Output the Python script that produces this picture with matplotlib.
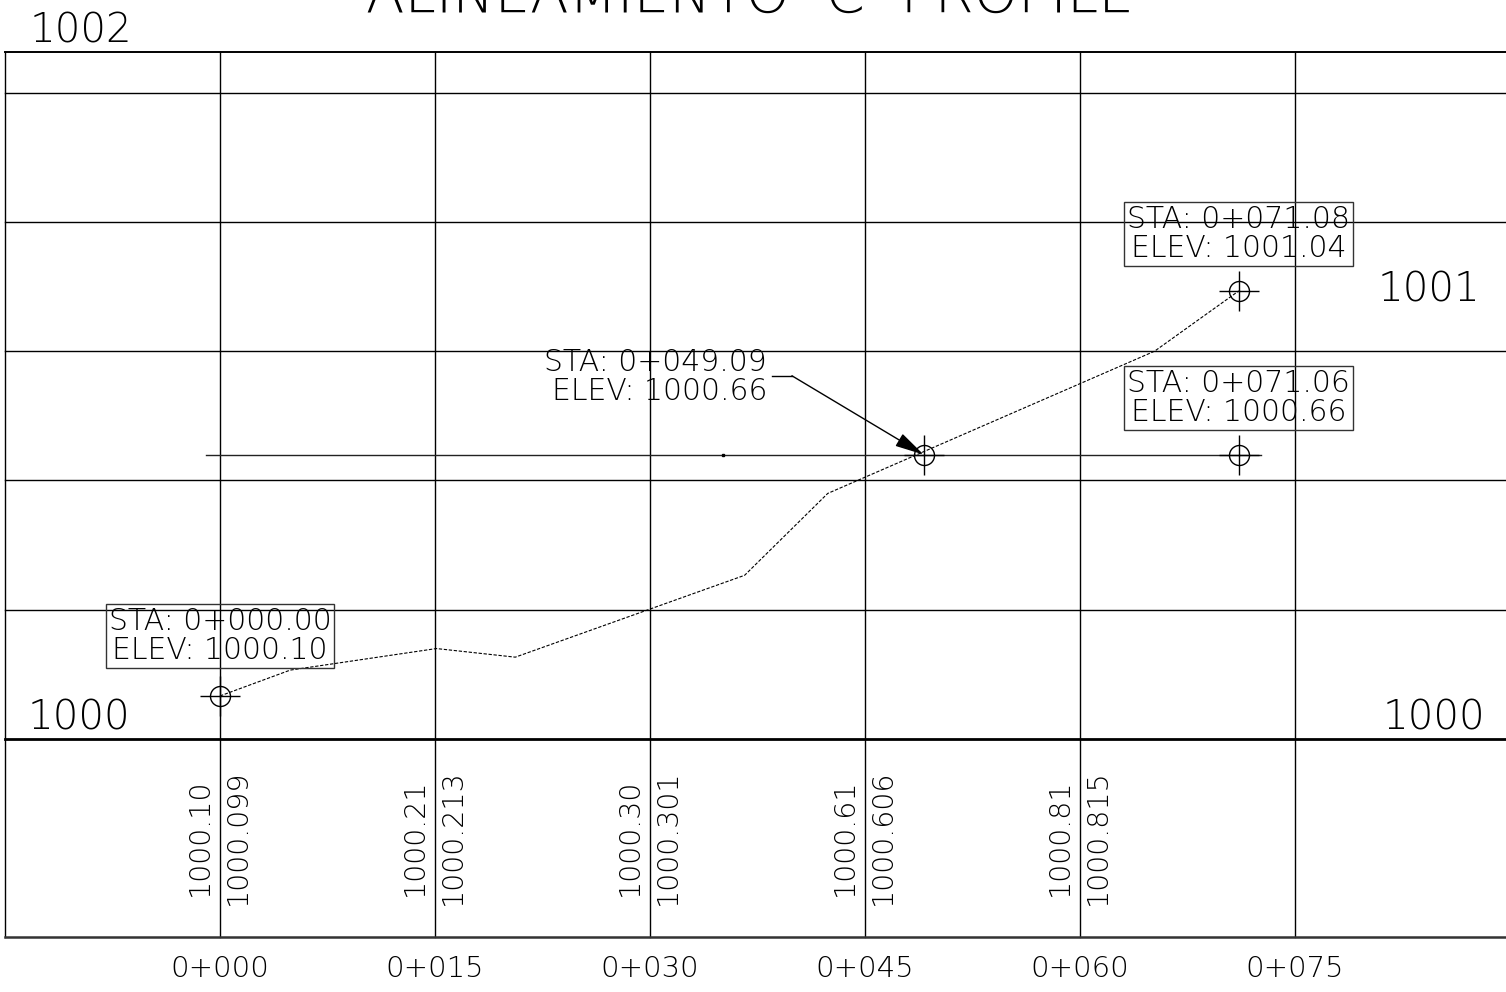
import matplotlib.pyplot as plt
import numpy as np

# station grid (m) and labels
stations = [0, 15, 30, 45, 60, 75]
station_labels = ["0+000", "0+015", "0+030", "0+045", "0+060", "0+075"]

# elevation grid lines (m)
elev_grid = [1000.3, 1000.6, 1000.9, 1001.2, 1001.5]

# band values: existing ground / design
band_sta = [0, 15, 30, 45, 60]
band_exist = ["1000.10", "1000.21", "1000.30", "1000.61", "1000.81"]
band_design = ["1000.099", "1000.213", "1000.301", "1000.606", "1000.815"]

# ground profile (dashed)
profile_sta = [0.0, 4.9, 15.1, 20.6, 36.6, 42.4, 65.2, 71.08]
profile_elev = [1000.10, 1000.16, 1000.21, 1000.19, 1000.38, 1000.57, 1000.90, 1001.04]

# marked points
pt_sta = [0.0, 49.09, 71.08, 71.06]
pt_elev = [1000.10, 1000.66, 1001.04, 1000.66]

# reference level line
ref_elev = 1000.66
ref_from, ref_to = -1.0, 72.6

FONT = "DejaVu Sans"
W = 200  # light strokes, like a CAD simplex font

x_lo, x_hi = -15.35, 89.72
y_lo, y_hi = 999.413, 1001.715
top, bottom, datum = 1001.595, 999.54, 1000.0

fig = plt.figure(figsize=(15.06, 9.92), dpi=100)
ax = fig.add_axes([0, 0, 1, 1])
ax.set_xlim(x_lo, x_hi)
ax.set_ylim(y_lo, y_hi)
ax.axis("off")

# frame and grid
for s in [-15] + stations:
    ax.plot([s, s], [bottom, top], color="black", lw=1.0)
for e in elev_grid:
    ax.plot([-15, 95], [e, e], color="black", lw=1.0)
ax.plot([-15, 95], [top, top], color="black", lw=1.4)
ax.plot([-15, 95], [datum, datum], color="black", lw=2.0)
ax.plot([-15, 95], [bottom, bottom], color="#333333", lw=1.8)

# reference line
ax.plot([ref_from, ref_to], [ref_elev, ref_elev], color="#222222", lw=1.0)
ax.plot([35.1], [ref_elev], marker="s", ms=1.5, color="black")

# profile
ax.plot(profile_sta, profile_elev, color="black", lw=0.8, dashes=(3, 1.5))

# point markers: circle + cross
ax.plot(pt_sta, pt_elev, ls="none", marker="o", ms=14.4, mfc="none", mec="black", mew=1.0)
ax.plot(pt_sta, pt_elev, ls="none", marker="+", ms=29, mec="black", mew=1.0)

# labels in boxes
box = dict(boxstyle="square,pad=0.1", fc="none", ec="#333333", lw=1.0)
for i in [0, 2, 3]:
    s, e = pt_sta[i], pt_elev[i]
    dy = 0.138 if i == 0 else 0.131
    ax.text(s, e + dy, f"STA: 0+{s:06.2f}\nELEV: {e:.2f}", ha="center", va="center",
            family=FONT, fontweight=W, fontsize=21.5, linespacing=1.0, bbox=box)

# leader annotation
s, e = pt_sta[1], pt_elev[1]
ax.text(38.17, 1000.84, f"STA: 0+{s:06.2f}\nELEV: {e:.2f}", ha="right", va="center",
        multialignment="right", family=FONT, fontweight=W, fontsize=21.5, linespacing=1.0)
ax.plot([38.5, 39.9], [1000.843, 1000.843], color="black", lw=1.0)
ax.annotate("", xy=(s, e), xytext=(39.9, 1000.843),
            arrowprops=dict(arrowstyle="-|>,head_length=0.9,head_width=0.22",
                            mutation_scale=20, color="black", lw=1.0, shrinkA=0, shrinkB=0))

# band text
for s, a, b in zip(band_sta, band_exist, band_design):
    ax.text(s - 1.4, 999.773, a, rotation=90, ha="center", va="center",
            family=FONT, fontweight=W, fontsize=20.5)
    ax.text(s + 1.26, 999.773, b, rotation=90, ha="center", va="center",
            family=FONT, fontweight=W, fontsize=20.5)

# station labels
for s, lab in zip(stations, station_labels):
    ax.text(s, 999.466, lab, ha="center", va="center", family=FONT, fontweight=W, fontsize=21)

# elevation labels
ax.text(-13.4, 1000.021, "1000", ha="left", va="baseline", family=FONT, fontweight=W, fontsize=29)
ax.text(88.3, 1000.021, "1000", ha="right", va="baseline", family=FONT, fontweight=W, fontsize=29)
ax.text(87.9, 1001.016, "1001", ha="right", va="baseline", family=FONT, fontweight=W, fontsize=29)
ax.text(-13.3, 1001.617, "1002", ha="left", va="baseline", family=FONT, fontweight=W, fontsize=29)

# title, mostly cut by the top edge (as in the source drawing)
ax.text(37.0, 1001.687, "ALINEAMIENTO  C  PROFILE", ha="center", va="baseline",
        family=FONT, fontweight=W, fontsize=40.5, clip_on=False)

fig.savefig("out.png", dpi=100)
